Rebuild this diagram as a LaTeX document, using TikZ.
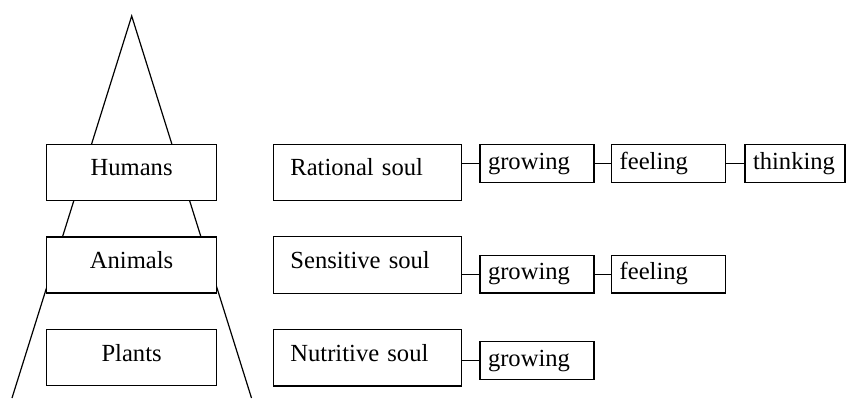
\documentclass[tikz,border=0pt]{standalone}
\usepackage{fontspec}
\setmainfont{Liberation Serif}

\begin{document}
\begin{tikzpicture}[x=0.5pt,y=-0.5pt,line width=0.6pt]
	\useasboundingbox (0,0) rectangle (846,398);
	
	% the pyramid behind the boxes
	\coordinate (top) at (131.7,16);
	\coordinate (L) at (12,398);
	\coordinate (R) at (251.5,398);
	\draw (L) -- (top) -- (R);
	
	\begin{scope}[every node/.style={draw,fill=white,minimum width=85pt,minimum height=28pt,text height=8pt,text depth=4.8pt,font=\fontsize{12.3}{14}\selectfont}]
		\node (H) at (131.6,172.5) {Humans};
		\node (A) at (131.6,265) {Animals};
		\node (P) at (131.6,357.8) {Plants};
	\end{scope}
	
	\begin{scope}[every node/.style={draw,fill=white,inner xsep=8.5pt,text width=77pt,align=left,minimum height=28.2pt,text height=8pt,text depth=4.8pt,font=\fontsize{12.3}{14}\selectfont}]
		\node (RS) at (367.4,172.5) {Rational soul};
		\node (SS) at (367.4,265) {Sensitive soul};
		\node (NS) at (367.4,357.8) {Nutritive soul};
	\end{scope}
	
	\begin{scope}[every node/.style={draw,fill=white,inner xsep=4pt,text width=49pt,align=left,minimum height=18.8pt,text height=8.6pt,text depth=2.9pt,font=\fontsize{12.3}{14}\selectfont}]
		\node (g1) at (537,163.3) {growing};
		\node (f1) at (668.7,163.3) {feeling};
		\node[text width=42pt] (t1) at (795,163.3) {thinking};
		\node (g2) at (537,274.2) {growing};
		\node (f2) at (668.7,274.2) {feeling};
		\node (g3) at (537,360.5) {growing};
	\end{scope}
	
	\begin{scope}[every edge/.style={draw=black,line width=0.6pt}]
		\path (RS.east |- g1.west) edge (g1.west);
		\path (g1) edge (f1);
		\path (f1) edge (t1);
		\path (SS.east |- g2.west) edge (g2.west);
		\path (g2) edge (f2);
		\path (NS.east |- g3.west) edge (g3.west);
	\end{scope}
\end{tikzpicture}
\end{document}
